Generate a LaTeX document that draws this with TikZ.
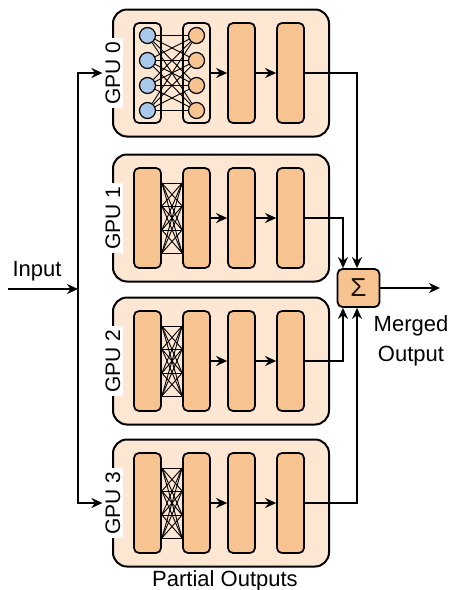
\documentclass[tikz,border=0pt]{standalone}
\usepackage{fontspec}
\setmainfont{Liberation Sans}
\usetikzlibrary{arrows.meta}

\definecolor{gpufill}{HTML}{FDE7D3}
\definecolor{layerfill}{HTML}{F7C391}
\definecolor{nodeblue}{HTML}{A8C8EC}

\begin{document}
\begin{tikzpicture}[x=1pt, y=-1pt, >={Stealth[length=11pt, width=10pt]},
  gpubox/.style={draw, line width=2pt, rounded corners=14pt, fill=gpufill, minimum width=216pt, minimum height=127pt},
  layerbox/.style={draw, line width=1.7pt, rounded corners=5pt, fill=layerfill, minimum width=27pt, minimum height=100pt},
  neuron/.style={circle, draw, line width=1.2pt, minimum size=16pt, inner sep=0pt},
  gpulabel/.style={fill=white, rotate=90, inner sep=3pt, font=\fontsize{21}{24}\selectfont},
  conn/.style={line width=1.8pt},
  link/.style={line width=0.9pt},
  txt/.style={font=\fontsize{22}{30}\selectfont, align=center}]
  \useasboundingbox (0,0) rectangle (449,590);

  % four GPUs, each with its copy of the layers
  \foreach \i/\t/\fa in {0/9/gpufill, 1/154/layerfill, 2/297/layerfill, 3/439/layerfill} {
    \node[gpubox] (gpu\i) at (221, \t+64) {};
    \node[gpulabel] (lab\i) at (113, \t+64) {GPU \i};
    \node[layerbox, fill=\fa] (l\i-1) at (147.5, \t+64) {};
    \node[layerbox, fill=\fa] (l\i-2) at (196.5, \t+64) {};
    \node[layerbox] (l\i-3) at (241.5, \t+64) {};
    \node[layerbox] (l\i-4) at (290.5, \t+64) {};
    \draw[conn, ->] (l\i-2) -- (l\i-3);
    \draw[conn, ->] (l\i-3) -- (l\i-4);
  }

  % neurons of GPU 0
  \foreach \j/\dy in {1/-37.5, 2/-12.5, 3/12.5, 4/37.5} {
    \node[neuron, fill=nodeblue] (a\j) at (147.5, 73+\dy) {};
    \node[neuron, fill=layerfill] (b\j) at (196.5, 73+\dy) {};
  }
  \foreach \j in {1,...,4}
    \foreach \k in {1,...,4}
      \draw[link] (a\j) -- (b\k);

  % dense links of the other GPUs
  \foreach \i in {1,2,3}
    \foreach \p in {-35,-12,12,35}
      \foreach \q in {-35,-12,12,35}
        \draw[link] ([yshift=\p pt]l\i-1.east) -- ([yshift=\q pt]l\i-2.west);

  % input
  \node[txt] (inlab) at (37, 271) {Input};
  \coordinate (in) at (8, 289);
  \coordinate (split) at (78, 289);
  \draw[conn, ->] (in) -- (split);
  \draw[conn, ->] (split) |- (lab0.north);
  \draw[conn, ->] (split) |- (lab3.north);

  % merge
  \node[draw, line width=1.8pt, rounded corners=5pt, fill=layerfill, minimum width=42pt, minimum height=38pt,
    text=black!85!brown, font=\fontsize{26}{28}\selectfont] (sigma) at (358.5, 288) {Σ};
  \draw[conn, ->] (l0-4) -| ([xshift=-1.5pt]sigma.north);
  \draw[conn, ->] (l1-4) -| ([xshift=-15.5pt]sigma.north);
  \draw[conn, ->] (l2-4) -| ([xshift=-15.5pt]sigma.south);
  \draw[conn, ->] (l3-4) -| ([xshift=-1.5pt]sigma.south);
  \coordinate (out) at (440, 288);
  \draw[conn, ->] (sigma) -- (out);
  \node[txt] (merged) at (411, 341) {Merged\\Output};

  \node[txt] (partial) at (225, 581) {Partial Outputs};
\end{tikzpicture}
\end{document}
